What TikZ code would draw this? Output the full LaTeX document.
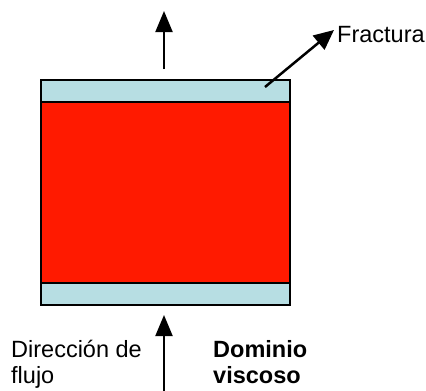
\documentclass[tikz,border=0pt]{standalone}
\usepackage{fontspec}
\setmainfont{Liberation Sans}
\usetikzlibrary{arrows.meta}
\definecolor{layerblue}{RGB}{183,222,227}
\definecolor{corered}{RGB}{255,26,0}
\begin{document}
\begin{tikzpicture}[x=1pt,y=-1pt,
  layer/.style={draw=black,line width=2pt,inner sep=0pt,minimum width=249pt,anchor=north west},
  flowarrow/.style={line width=2pt,-{Triangle[width=17pt,length=21pt]}},
  lbl/.style={font=\fontsize{23.5}{25.5}\selectfont,align=left,anchor=base west,inner sep=0pt}]
\useasboundingbox (0,0) rectangle (426,391);
\node[layer,fill=corered,minimum height=181pt] (core) at (40,101) {};
\node[layer,fill=layerblue,minimum height=22pt] (top) at (40,79) {};
\node[layer,fill=layerblue,minimum height=22pt] (bot) at (40,282) {};
\coordinate (topstart) at (164,69);
\coordinate (toptip) at (164,11);
\coordinate (botstart) at (164,391);
\coordinate (bottip) at (164,315);
\coordinate (fracstart) at (265,87);
\coordinate (fractip) at (334,30);
\node[lbl] (frac) at (337,42) {Fractura};
\node[lbl] (dir) at (11,383) {Dirección de\\flujo};
\node[lbl,font=\fontsize{23.5}{25.5}\selectfont\bfseries] (dom) at (213,383) {Dominio\\viscoso};
\draw[flowarrow] (topstart) -- (toptip);
\draw[flowarrow] (botstart) -- (bottip);
\draw[line width=2.5pt,-{Triangle[width=18pt,length=20pt]}] (fracstart) -- (fractip);
\end{tikzpicture}
\end{document}
